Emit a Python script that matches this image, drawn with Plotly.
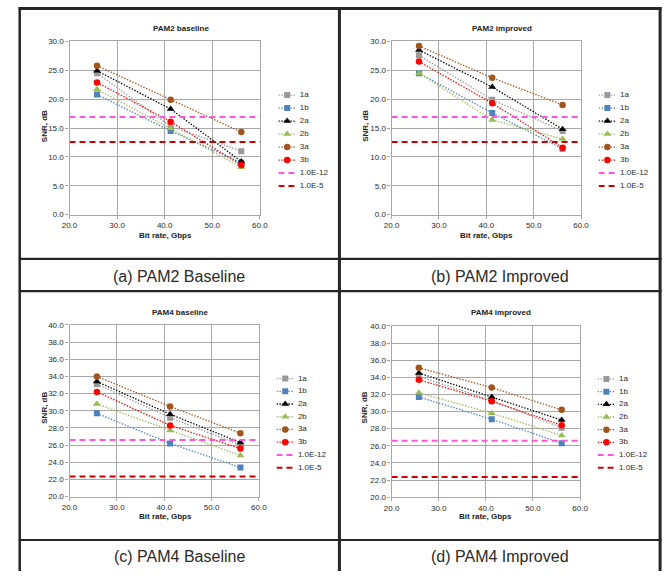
import plotly.graph_objects as go

FIG_W, FIG_H = 672, 576
FONT = "Liberation Sans, Arial, sans-serif"

# ---- data -----------------------------------------------------------------
bit_rate = [25.78, 41.25, 56.1]          # Gbps
x_span = [20.0, 60.0]                    # extent of the BER limit lines
series = ["1a", "1b", "2a", "2b", "3a", "3b"]
limit_names = ["1.0E-12", "1.0E-5"]

# SNR (dB) per series, rows in the order of `series`
snr_pam2_baseline = [
    [24.5, 15.3, 11.0],
    [20.8, 14.5, 9.0],
    [24.9, 18.3, 9.2],
    [21.7, 14.9, 8.2],
    [25.8, 19.9, 14.3],
    [22.9, 16.1, 8.6],
]
snr_pam2_improved = [
    [27.6, 19.9, 14.5],
    [24.5, 17.6, 11.4],
    [28.5, 22.1, 14.8],
    [24.5, 16.4, 13.1],
    [29.2, 23.7, 19.0],
    [26.5, 19.3, 11.6],
]
snr_pam4_baseline = [
    [33.1, 29.2, 26.0],
    [29.7, 26.2, 23.4],
    [33.4, 29.6, 26.3],
    [30.8, 27.7, 24.8],
    [34.0, 30.5, 27.4],
    [32.2, 28.3, 25.6],
]
snr_pam4_improved = [
    [34.1, 31.3, 28.1],
    [31.7, 29.1, 26.3],
    [34.5, 31.7, 29.0],
    [32.2, 29.8, 27.2],
    [35.1, 32.8, 30.2],
    [33.7, 31.2, 28.4],
]

# SNR required for the two BER targets
pam2_limits = [16.9, 12.6]
pam4_limits = [26.6, 22.35]

# ---- styles ---------------------------------------------------------------
series_colors = ["#999999", "#4f81bd", "#000000", "#9bbb59", "#a0561e", "#ff0000"]
series_symbols = ["square", "square", "triangle-up", "triangle-up", "circle", "circle"]
series_sizes = [6, 6, 7, 7, 6.5, 6.5]
limit_colors = ["#ff55dd", "#cc0000"]
DOT = "1.4px,1.6px"
DASH = "6px,4px"
GRID = "#a8a8a8"
TEXT = "#333333"

# legend key geometry (pixels inside each key box)
KEY_BOX_W = 60
KEY_LINE = [0, 18]
KEY_MARK = 9
KEY_TEXT = 22


def px_x(v):
    return v / FIG_W


def px_y(v):
    return 1 - v / FIG_H


# panel layout in pixels
panels = [
    dict(data=snr_pam2_baseline, limits=pam2_limits, title="PAM2 baseline",
         caption="(a) PAM2 Baseline", yrange=[0, 30], dtick=5,
         plot=(63, 258, 38, 214), title_xy=(177, 25), xt_xy=(161, 235),
         yt_xy=(37, 124), cap_xy=(175.5, 277),
         leg=(277, 92.5, 185)),
    dict(data=snr_pam2_improved, limits=pam2_limits, title="PAM2 improved",
         caption="(b) PAM2 Improved", yrange=[0, 30], dtick=5,
         plot=(393, 587, 38, 214), title_xy=(506, 25), xt_xy=(490, 235),
         yt_xy=(365.5, 124), cap_xy=(504, 277),
         leg=(605, 92.5, 185)),
    dict(data=snr_pam4_baseline, limits=pam4_limits, title="PAM4 baseline",
         caption="(c) PAM4 Baseline", yrange=[20, 40], dtick=2,
         plot=(63, 257, 326, 500.5), title_xy=(176.5, 313), xt_xy=(161, 521),
         yt_xy=(37, 410), cap_xy=(175.5, 561),
         leg=(275, 380.5, 471)),
    dict(data=snr_pam4_improved, limits=pam4_limits, title="PAM4 improved",
         caption="(d) PAM4 Improved", yrange=[20, 40], dtick=2,
         plot=(393, 586, 327, 501), title_xy=(505, 313), xt_xy=(489.5, 521),
         yt_xy=(365.5, 410), cap_xy=(504, 561),
         leg=(604, 381, 471)),
]

fig = go.Figure()
layout = {}
annotations = []

legend_labels = series + limit_names
n_rows = len(legend_labels)


def ann(text, xy, size, angle=0, color=TEXT):
    return dict(text=text, x=px_x(xy[0]), y=px_y(xy[1]), xref="paper",
                yref="paper", showarrow=False, xanchor="center",
                yanchor="middle", textangle=angle,
                font=dict(family=FONT, size=size, color=color))


for i, p in enumerate(panels):
    k = i + 1
    xa, ya = f"x{k}", f"y{k}"
    x0, x1, y0, y1 = p["plot"]

    # measured series: dotted line with markers
    for s, name in enumerate(series):
        fig.add_trace(go.Scatter(
            x=bit_rate, y=p["data"][s], name=name, mode="lines+markers",
            xaxis=xa, yaxis=ya, showlegend=False,
            line=dict(color=series_colors[s], width=1.3, dash=DOT),
            marker=dict(color=series_colors[s], symbol=series_symbols[s],
                        size=series_sizes[s], line=dict(width=0)),
        ))
    # BER limit lines
    for j, name in enumerate(limit_names):
        fig.add_trace(go.Scatter(
            x=x_span, y=[p["limits"][j]] * 2, name=name, mode="lines",
            xaxis=xa, yaxis=ya, showlegend=False,
            line=dict(color=limit_colors[j], width=2, dash=DASH),
        ))

    axis_common = dict(
        showgrid=True, gridcolor=GRID, gridwidth=1.3,
        showline=True, linecolor=GRID, linewidth=1.3, mirror=True,
        ticks="outside", ticklen=3, tickcolor=GRID, tickwidth=1.3,
        tickformat=".1f", zeroline=False,
        tickfont=dict(family=FONT, size=8, color="#2b2b2b"),
    )
    layout[f"xaxis{k}"] = dict(
        axis_common, domain=[px_x(x0), px_x(x1)], range=[20, 60], dtick=10,
        tick0=20, anchor=ya,
    )
    layout[f"yaxis{k}"] = dict(
        axis_common, domain=[px_y(y1), px_y(y0)], range=p["yrange"],
        dtick=p["dtick"], tick0=0, anchor=xa,
    )

    # legend keys on their own hidden axes
    lk = k + 4
    lxa, lya = f"x{lk}", f"y{lk}"
    lx0, ly0, ly1 = p["leg"]
    step = (ly1 - ly0) / (n_rows - 1)
    layout[f"xaxis{lk}"] = dict(domain=[px_x(lx0), px_x(lx0 + KEY_BOX_W)],
                                range=[0, KEY_BOX_W], visible=False, anchor=lya)
    layout[f"yaxis{lk}"] = dict(domain=[px_y(ly1 + step / 2), px_y(ly0 - step / 2)],
                                range=[n_rows - 0.5, -0.5], visible=False, anchor=lxa)
    for s in range(len(series)):
        fig.add_trace(go.Scatter(
            x=KEY_LINE, y=[s, s], mode="lines", xaxis=lxa, yaxis=lya,
            showlegend=False, hoverinfo="skip",
            line=dict(color=series_colors[s], width=1.3, dash=DOT),
        ))
        fig.add_trace(go.Scatter(
            x=[KEY_MARK], y=[s], mode="markers", xaxis=lxa, yaxis=lya,
            showlegend=False, hoverinfo="skip",
            marker=dict(color=series_colors[s], symbol=series_symbols[s],
                        size=series_sizes[s], line=dict(width=0)),
        ))
    for j in range(len(limit_names)):
        row = len(series) + j
        fig.add_trace(go.Scatter(
            x=KEY_LINE, y=[row, row], mode="lines", xaxis=lxa, yaxis=lya,
            showlegend=False, hoverinfo="skip",
            line=dict(color=limit_colors[j], width=2, dash=DASH),
        ))
    fig.add_trace(go.Scatter(
        x=[KEY_TEXT] * n_rows, y=list(range(n_rows)), mode="text",
        text=legend_labels, textposition="middle right",
        textfont=dict(family=FONT, size=8, color="#2b2b2b"),
        xaxis=lxa, yaxis=lya, showlegend=False, hoverinfo="skip",
    ))

    # titles and captions
    annotations.append(ann(f"<b>{p['title']}</b>", p["title_xy"], 8, color="#222222"))
    annotations.append(ann("<b>Bit rate, Gbps</b>", p["xt_xy"], 8, color="#222222"))
    annotations.append(ann("<b>SNR, dB</b>", p["yt_xy"], 8, angle=-90, color="#222222"))
    annotations.append(ann(p["caption"], p["cap_xy"], 16, color="#2a2a2a"))

# table frame around the four panels
BORDER = "#262626"
shapes = []


def hline(y, x0, x1, w):
    return dict(type="line", xref="paper", yref="paper",
                x0=px_x(x0), x1=px_x(x1), y0=px_y(y), y1=px_y(y),
                line=dict(color=BORDER, width=w))


def vline(x, y0, y1, w):
    return dict(type="line", xref="paper", yref="paper",
                x0=px_x(x), x1=px_x(x), y0=px_y(y0), y1=px_y(y1),
                line=dict(color=BORDER, width=w))


shapes += [
    hline(4.5, 11, 669.5, 3),
    hline(259, 11, 669.5, 2.2),
    hline(291.7, 11, 669.5, 2.2),
    hline(544.5, 11, 669.5, 2.2),
    vline(12, 3, 576, 2.5),
    vline(339.5, 3, 576, 3),
    vline(668, 3, 576, 3),
]

fig.update_layout(
    width=FIG_W, height=FIG_H,
    margin=dict(l=0, r=0, t=0, b=0),
    paper_bgcolor="white", plot_bgcolor="white",
    showlegend=False,
    annotations=annotations,
    shapes=shapes,
    font=dict(family=FONT, color=TEXT),
    **layout,
)

fig.write_html("out.html")
